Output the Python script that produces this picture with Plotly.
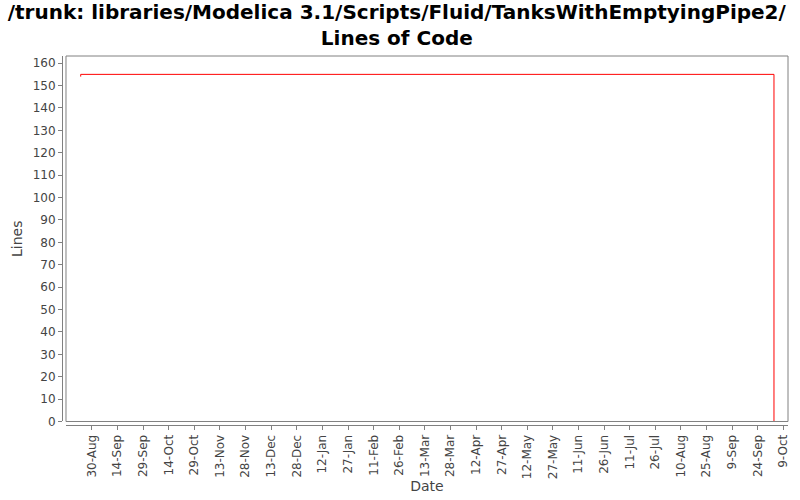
import plotly.graph_objs as go

# line count history (step chart)
dates = ['2008-08-23 10:00', '2008-08-23 10:00', '2009-10-03 12:00', '2009-10-03 12:00']
lines = [154, 155, 155, 0]

tick_dates = ['2008-08-30', '2008-09-14', '2008-09-29', '2008-10-14', '2008-10-29',
              '2008-11-13', '2008-11-28', '2008-12-13', '2008-12-28', '2009-01-12',
              '2009-01-27', '2009-02-11', '2009-02-26', '2009-03-13', '2009-03-28',
              '2009-04-12', '2009-04-27', '2009-05-12', '2009-05-27', '2009-06-11',
              '2009-06-26', '2009-07-11', '2009-07-26', '2009-08-10', '2009-08-25',
              '2009-09-09', '2009-09-24', '2009-10-09']
y_ticks = list(range(0, 161, 10))

fig = go.Figure()
fig.add_trace(go.Scatter(x=dates, y=lines, mode='lines',
                         line=dict(color='#ff0000', width=1), showlegend=False))

axis_font = dict(family='DejaVu Sans', size=12, color='#444444')
fig.update_layout(
    width=800, height=500,
    paper_bgcolor='white', plot_bgcolor='white',
    margin=dict(l=62, r=12, t=56, b=75, autoexpand=False),
    title=dict(text='<b>/trunk: libraries/Modelica 3.1/Scripts/Fluid/TanksWithEmptyingPipe2/<br>Lines of Code</b>',
               x=0.496, xanchor='center', yref='container', y=0.962, yanchor='middle',
               font=dict(family='DejaVu Sans', size=20, color='black')),
    xaxis=dict(domain=[0.0055, 1], anchor='free', position=0, automargin=False,
               range=['2008-08-14 19:00', '2009-10-11 17:00'],
               tickvals=tick_dates, tickformat='%-d-%b', tickangle=-90,
               showgrid=False, zeroline=False, showline=True, linecolor='#808080',
               ticks='outside', ticklen=4, tickcolor='#808080', tickfont=axis_font,
               title=dict(text='Date', font=dict(family='DejaVu Sans', size=14, color='#444444'),
                          standoff=2)),
    yaxis=dict(domain=[0.0095, 1], anchor='free', position=0, automargin=False,
               range=[0, 163.2], tickvals=y_ticks,
               showgrid=False, zeroline=False, showline=True, linecolor='#808080',
               ticks='outside', ticklen=4, tickcolor='#808080', tickfont=axis_font,
               title=dict(text='Lines', font=dict(family='DejaVu Sans', size=14, color='#444444'),
                          standoff=5)),
)
fig.add_shape(type='rect', xref='x domain', yref='y domain', x0=0, x1=1, y0=0, y1=1,
              line=dict(color='#808080', width=1))
# drop the default 8px body margin so the figure fills the window
fig.write_html("out.html", config={'displayModeBar': False},
               post_script="document.body.style.margin='0';")
